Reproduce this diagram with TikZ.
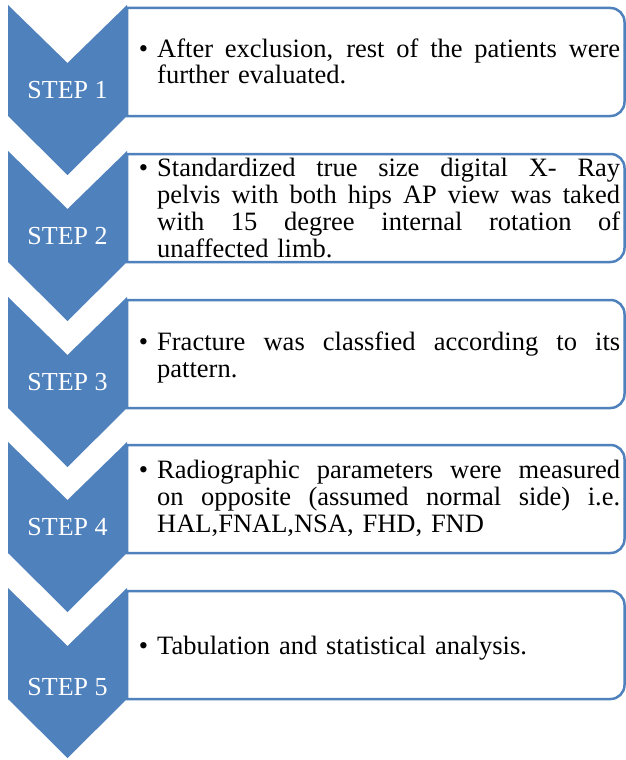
\documentclass[tikz,border=0pt]{standalone}
\usepackage{fontspec}
\setmainfont{Liberation Serif}
\definecolor{stepblue}{HTML}{4F81BD}
\newcommand\jline[1]{\leavevmode\hbox to 463pt{\spaceskip=0.25em plus 1fil\relax #1}\\}
\newcommand\bul{\leavevmode\llap{\textbullet\hspace{9pt}}}
\begin{document}
\begin{tikzpicture}[x=1pt,y=1pt,
  chevron/.style={fill=stepblue,draw=none},
  stepbox/.style={draw=stepblue,line width=2.5pt,fill=white},
  steplabel/.style={text=white,anchor=base,inner sep=0pt,font=\fontsize{26}{27}\selectfont},
  bodytext/.style={anchor=base west,inner sep=0pt,text width=463pt,align=left,font=\fontsize{26.5}{27}\selectfont}]
\fill[white] (0,0) rectangle (626,-760);
\useasboundingbox (0,0) rectangle (626,-760);
\foreach \t in {5,151,297,442,588}{
  \draw[stepbox] (127,{-\t-3}) -- (610.5,{-\t-3}) arc[start angle=90,end angle=0,radius=14]
     -- (624.5,{-\t-97}) arc[start angle=0,end angle=-90,radius=14] -- (127,{-\t-111}) -- cycle;
  \fill[chevron] (8,-\t) -- (67.5,{-\t-58}) -- (127,-\t) -- (127,{-\t-111})
     -- (67.5,{-\t-170}) -- (8,{-\t-111}) -- cycle;
}
\node[steplabel] (s1) at (67.5,-99) {STEP 1};
\node[steplabel] (s2) at (67.5,-244) {STEP 2};
\node[steplabel] (s3) at (67.5,-390) {STEP 3};
\node[steplabel] (s4) at (67.5,-535) {STEP 4};
\node[steplabel] (s5) at (67.5,-695) {STEP 5};
\node[bodytext] (b1) at (157,-57) {\bul\jline{After exclusion, rest of the patients were}further evaluated.};
\node[bodytext] (b2) at (157,-176) {\bul\jline{Standardized true size digital X- Ray}\jline{pelvis with both hips AP view was taked}\jline{with 15 degree internal rotation of}unaffected limb.};
\node[bodytext] (b3) at (157,-350) {\bul\jline{Fracture was classfied according to its}pattern.};
\node[bodytext] (b4) at (157,-478) {\bul\jline{Radiographic parameters were measured}\jline{on opposite (assumed normal side) i.e.}HAL,FNAL,NSA, FHD, FND};
\node[bodytext] (b5) at (157,-654) {\bul Tabulation and statistical analysis.};
\end{tikzpicture}
\end{document}
